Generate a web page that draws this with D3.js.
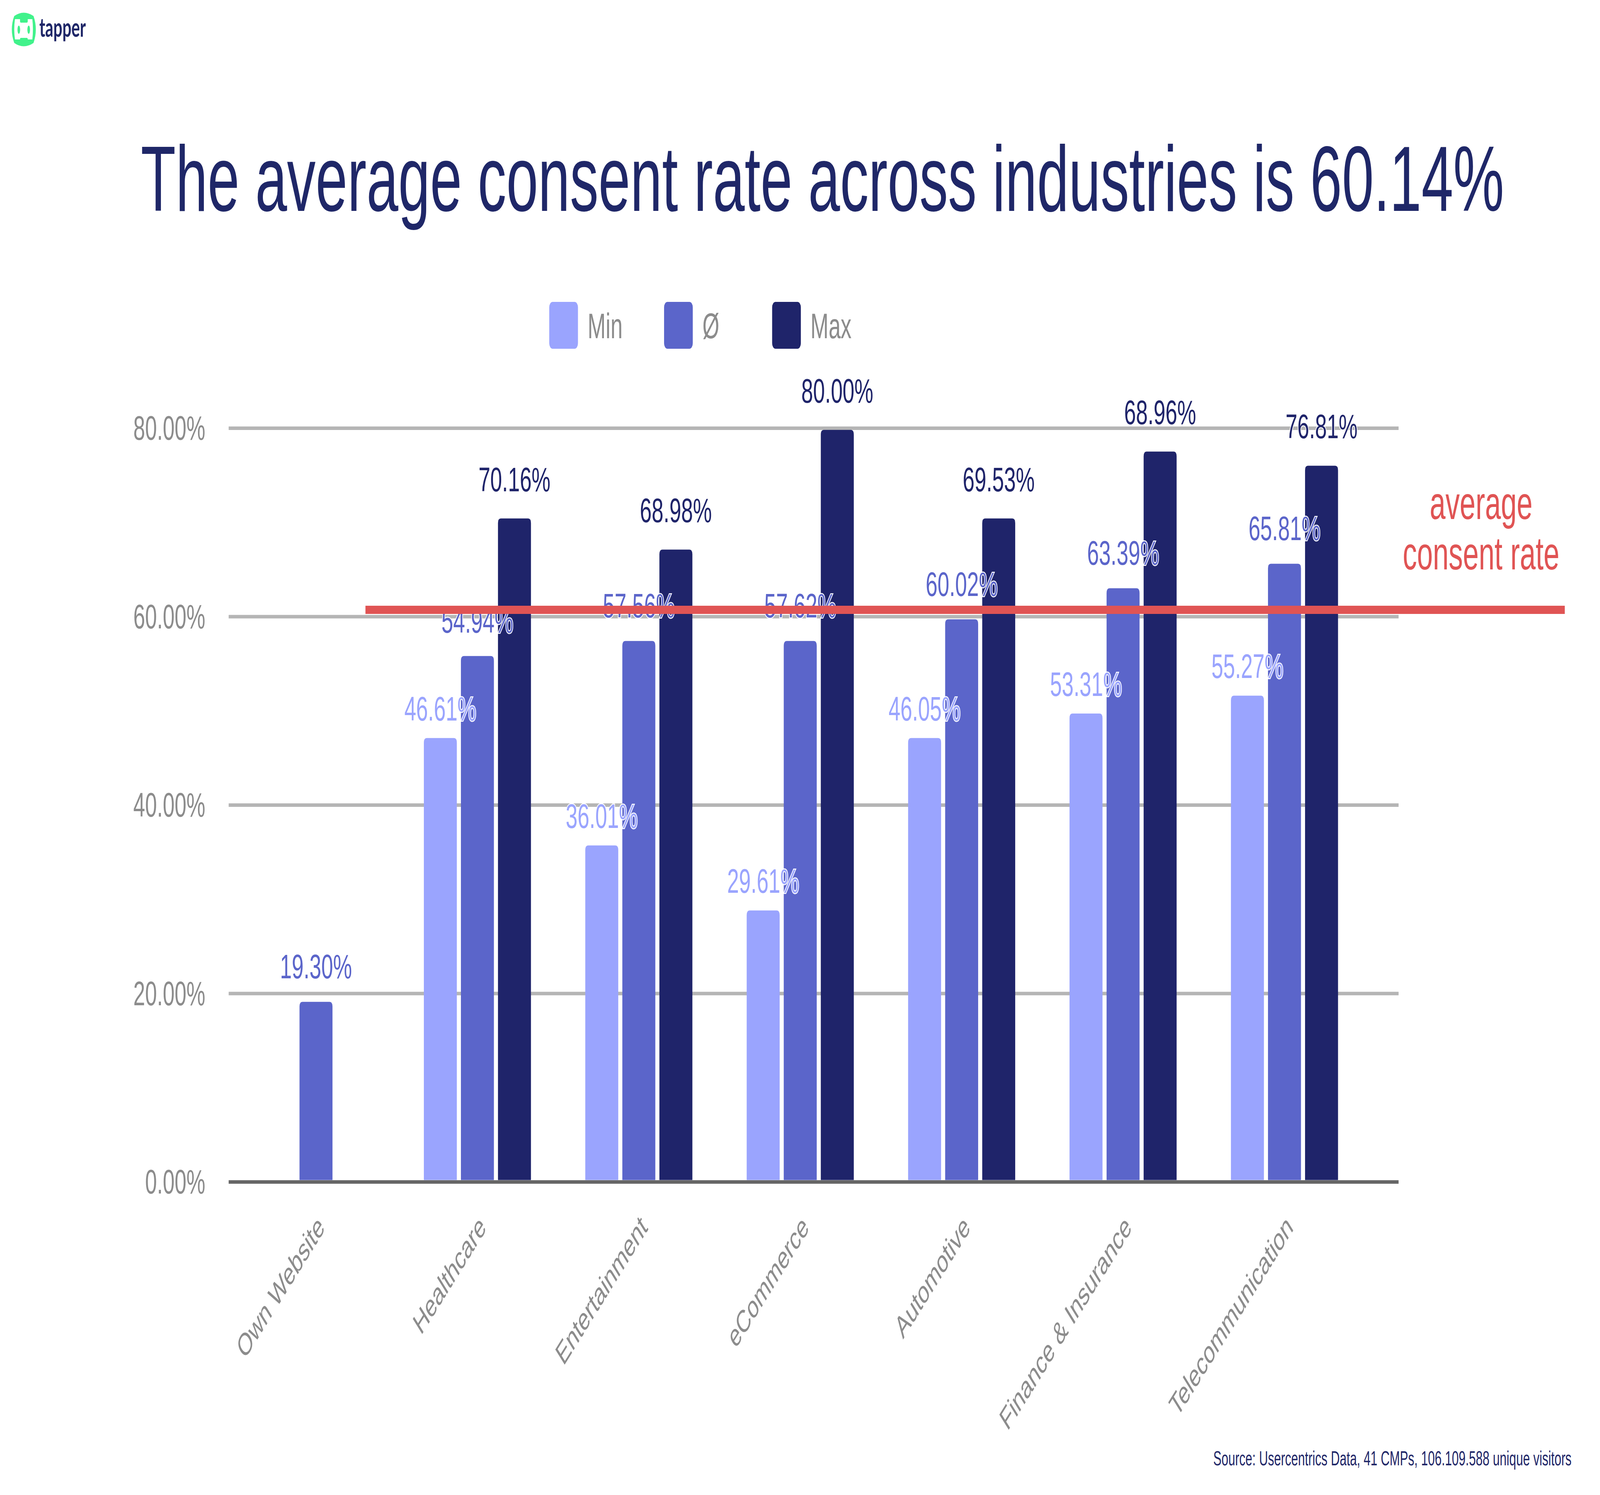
<!DOCTYPE html>
<html>
<head>
<meta charset="utf-8">
<script src="https://cdn.jsdelivr.net/npm/d3@7"></script>
<style>
  html, body { margin: 0; padding: 0; width: 100%; height: 100%; overflow: hidden; background: #ffffff; }
  .chart svg { display: block; width: 100vw; height: 100vh; }
  text { font-family: "Liberation Sans", Arial, sans-serif; }
</style>
</head>
<body>
<div class="chart"></div>
<script>
// ********************DATA**********************

const categories = ["Own Website", "Healthcare", "Entertainment", "eCommerce", "Automotive", "Finance & Insurance", "Telecommunication"]
const series = ["Min", "Ø", "Max"]

// bar heights as drawn (percent)
const minVals = [null, 47.1, 35.7, 28.8, 47.1, 49.7, 51.6]
const avgVals = [19.1, 55.8, 57.4, 57.4, 59.7, 63.0, 65.6]
const maxVals = [null, 70.4, 67.1, 79.8, 70.4, 77.5, 76.0]

// value labels as printed
const minLabels = [null, "46.61%", "36.01%", "29.61%", "46.05%", "53.31%", "55.27%"]
const avgLabels = ["19.30%", "54.94%", "57.56%", "57.62%", "60.02%", "63.39%", "65.81%"]
const maxLabels = [null, "70.16%", "68.98%", "80.00%", "69.53%", "68.96%", "76.81%"]

const yTicks = [0, 20, 40, 60, 80]
const averageLine = 60.7

const colors = ["#9aa4fe", "#5b65ca", "#1f246a"]
const navy = "#1f2768"
const red = "#e05454"
const gray = "#8c8c8c"

// ********************LAYOUT**********************

// drawing space is the reference size; the viewBox stretches it over the window
const width = 6633
const height = 3828
const plotLeft = 948
const plotRight = 5798
const plotTop = 1096
const plotBottom = 3026

const svg = d3.select(".chart")
  .append("svg")
  .attr("viewBox", "0 0 " + width + " " + height)
  .attr("preserveAspectRatio", "none")

// scales
const yScale = d3.scaleLinear()
  .domain([0, 80])
  .range([plotBottom, plotTop])

const xScale = d3.scalePoint()
  .domain(categories)
  .range([1310, 5325])

const subScale = d3.scaleBand()
  .domain(series)
  .range([-222, 222])
  .paddingInner(0.11)

// build rows for bars
const rows = []
categories.forEach((c, i) => {
  const vals = [minVals[i], avgVals[i], maxVals[i]]
  const labs = [minLabels[i], avgLabels[i], maxLabels[i]]
  series.forEach((s, j) => {
    if (vals[j] != null) rows.push({ cat: c, ser: s, idx: j, value: vals[j], label: labs[j] })
  })
})

// ********************LOGO**********************

const logo = svg.append("g")
logo.append("path")
  .attr("d", "M59,41 Q98,24 139,41 Q158,75 139,110 Q98,127 59,110 Q39,75 59,41 Z")
  .attr("fill", "#41f28b")
logo.append("path")
  .attr("d", "M62,49 L83,49 L83,54 Q83,58 87,58 L111,58 Q115,58 115,54 L115,49 L134,49 Q139,75 134,101 L115,101 L115,100 Q115,97 111,97 L87,97 Q83,97 83,100 L83,101 L62,101 Q56,75 62,49 Z")
  .attr("fill", "#ffffff")
logo.append("ellipse").attr("cx", 78).attr("cy", 76).attr("rx", 5.5).attr("ry", 10.5).attr("fill", "#41f28b")
logo.append("ellipse").attr("cx", 119).attr("cy", 76).attr("rx", 5.5).attr("ry", 10.5).attr("fill", "#41f28b")
svg.append("text")
  .attr("x", 163)
  .attr("y", 94)
  .style("font-family", "Lato, 'Liberation Sans', sans-serif")
  .style("font-weight", "700")
  .style("font-size", "66px")
  .attr("fill", navy)
  .text("tapper")

// ********************TITLE**********************

svg.append("text")
  .attr("x", 584)
  .attr("y", 540)
  .style("font-size", "237px")
  .attr("fill", navy)
  .text("The average consent rate across industries is 60.14%")

// ********************LEGEND**********************

const legendX = [2277, 2753, 3201]
const legend = svg.append("g")
series.forEach((s, i) => {
  legend.append("rect")
    .attr("x", legendX[i])
    .attr("y", 773)
    .attr("width", 119)
    .attr("height", 120)
    .attr("rx", 14)
    .attr("fill", colors[i])
  legend.append("text")
    .attr("x", legendX[i] + 159)
    .attr("y", 866)
    .style("font-size", "90px")
    .attr("fill", gray)
    .text(s)
})

// ********************AXES & GRID**********************

const yAxis = d3.axisLeft(yScale)
  .tickValues(yTicks)
  .tickFormat((d) => d3.format(".2f")(d) + "%")
  .tickSizeInner(-(plotRight - plotLeft))
  .tickSizeOuter(0)
  .tickPadding(97)

const yAxisG = svg.append("g")
  .attr("id", "y-axis")
  .attr("transform", "translate(" + plotLeft + ",0)")
  .call(yAxis)

yAxisG.select(".domain").remove()
yAxisG.selectAll(".tick line")
  .attr("stroke", (d) => d === 0 ? "#666666" : "#b5b5b5")
  .attr("stroke-width", 9)
yAxisG.selectAll(".tick text")
  .attr("fill", gray)
  .attr("dy", "0.34em")
  .style("font-size", "88px")
  .style("font-family", "'Liberation Sans', Arial, sans-serif")

// ********************BARS**********************

const topRounded = (x, y, w, h, r) => {
  return "M" + x + "," + (y + h) +
    "L" + x + "," + (y + r) +
    "Q" + x + "," + y + " " + (x + r) + "," + y +
    "L" + (x + w - r) + "," + y +
    "Q" + (x + w) + "," + y + " " + (x + w) + "," + (y + r) +
    "L" + (x + w) + "," + (y + h) + "Z"
}

svg.append("g")
  .selectAll("path")
  .data(rows)
  .enter()
  .append("path")
  .attr("class", "bar")
  .attr("fill", (d) => colors[d.idx])
  .attr("d", (d) => {
    const x = xScale(d.cat) + subScale(d.ser)
    const y = yScale(d.value)
    return topRounded(x, y, subScale.bandwidth(), yScale(0) - y - 4.5, 12)
  })

// value labels
const labelGap = [45, 60, 70]
svg.append("g")
  .selectAll("text")
  .data(rows)
  .enter()
  .append("text")
  .attr("x", (d) => xScale(d.cat) + subScale(d.ser) + subScale.bandwidth() / 2)
  .attr("y", (d) => yScale(d.value) - labelGap[d.idx])
  .attr("text-anchor", "middle")
  .style("font-size", "88px")
  .attr("fill", (d) => colors[d.idx])
  .attr("stroke", "#ffffff")
  .attr("stroke-width", 5)
  .style("paint-order", "stroke")
  .text((d) => d.label)

// category labels
svg.append("g")
  .selectAll("text")
  .data(categories)
  .enter()
  .append("text")
  .attr("transform", (d) => "translate(" + (xScale(d) + 40) + "," + (plotBottom + 121) + ") rotate(-45)")
  .attr("text-anchor", "end")
  .style("font-size", "80px")
  .attr("fill", gray)
  .text((d) => d)

// ********************AVERAGE LINE**********************

svg.append("line")
  .attr("x1", 1515)
  .attr("x2", 6487)
  .attr("y1", yScale(averageLine))
  .attr("y2", yScale(averageLine))
  .attr("stroke", red)
  .attr("stroke-width", 21)

const note = svg.append("text")
  .attr("text-anchor", "middle")
  .style("font-size", "118px")
  .attr("fill", red)
note.append("tspan").attr("x", 6140).attr("y", 1329).text("average")
note.append("tspan").attr("x", 6140).attr("y", 1458).text("consent rate")

// ********************SOURCE**********************

svg.append("text")
  .attr("x", 6515)
  .attr("y", 3752)
  .attr("text-anchor", "end")
  .style("font-size", "51px")
  .attr("fill", navy)
  .text("Source: Usercentrics Data, 41 CMPs, 106.109.588 unique visitors")
</script>
</body>
</html>
